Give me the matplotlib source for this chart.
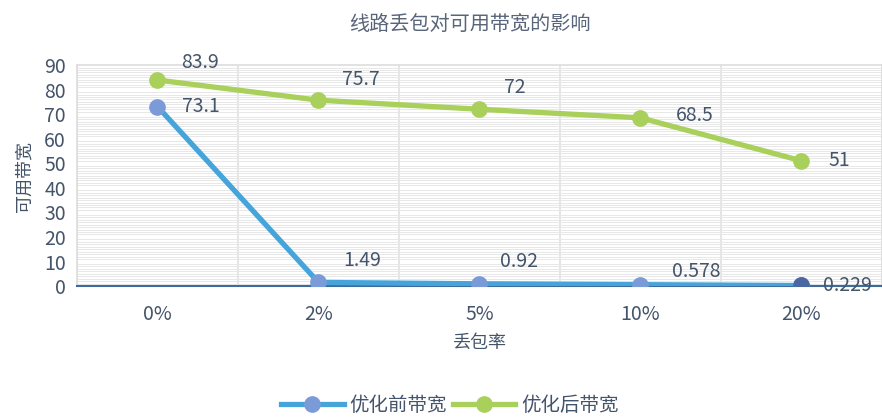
import matplotlib.pyplot as plt
import numpy as np

plt.rcParams['font.family'] = ['Noto Sans CJK SC', 'DejaVu Sans']

categories = ['0%', '2%', '5%', '10%', '20%']
before = [73.1, 1.49, 0.92, 0.578, 0.229]
after = [83.9, 75.7, 72, 68.5, 51]
before_labels = ['73.1', '1.49', '0.92', '0.578', '0.229']
after_labels = ['83.9', '75.7', '72', '68.5', '51']

txt = '#44546a'
blue = '#45a5da'
blue_mk = '#7b9bd8'
green = '#a8d05a'

fig = plt.figure(figsize=(8.82, 4.17), dpi=100)
ax = fig.add_axes([0.0873, 0.314, 0.9127, 0.53])

x = np.arange(len(categories))

ax.plot(x, before, color=blue, lw=3.8, marker='o', ms=11,
        mfc=blue_mk, mec=blue_mk, label='优化前带宽', zorder=4)
ax.plot(x[-1], before[-1], marker='o', ms=11, color='#4a67a3', zorder=5)
ax.plot(x, after, color=green, lw=3.8, marker='o', ms=11,
        mfc=green, mec=green, label='优化后带宽', zorder=4)

after_off = [(43, 18), (42, 21), (35, 22), (54, 2), (38, 0)]
before_off = [(43, 0), (44, 22), (40, 22), (56, 13), (46, 0)]
for i in range(len(x)):
    ax.annotate(after_labels[i], (x[i], after[i]), xytext=after_off[i],
                textcoords='offset pixels', color=txt, fontsize=14,
                va='center', ha='center')
    ax.annotate(before_labels[i], (x[i], before[i]), xytext=before_off[i],
                textcoords='offset pixels', color=txt, fontsize=14,
                va='center', ha='center', zorder=6)

ax.set_xlim(-0.5, 4.5)
ax.set_ylim(0, 90)
ax.set_xticks(x)
ax.set_xticklabels(categories)
ax.set_yticks(np.arange(0, 91, 10))
ax.set_yticks(np.arange(0, 91, 1), minor=True)
ax.set_xticks(np.arange(-0.5, 4.6, 0.5), minor=True)
ax.tick_params(axis='both', which='both', length=0, colors=txt, labelsize=14)
ax.tick_params(axis='x', pad=13)
ax.tick_params(axis='y', pad=8)
ax.grid(which='minor', axis='y', color='#e8e8e8', lw=0.7)
ax.grid(which='minor', axis='x', color='#e0e0e0', lw=1.2)
ax.set_axisbelow(True)

for s in ['top', 'left', 'right']:
    ax.spines[s].set_color('#dddddd')
    ax.spines[s].set_linewidth(1.2)
ax.spines['bottom'].set_color('#3f6a9e')
ax.spines['bottom'].set_linewidth(1.5)

ax.set_title('线路丢包对可用带宽的影响', color='#59657a', fontsize=14.5, pad=25, x=0.488)
ax.set_xlabel('丢包率', color=txt, fontsize=13, labelpad=6)
ax.set_ylabel('可用带宽', color=txt, fontsize=13, labelpad=8)

fig.legend(loc='lower center', bbox_to_anchor=(0.51, -0.04), ncol=2,
           frameon=False, fontsize=14, labelcolor=txt, handlelength=3.2,
           columnspacing=0.3, handletextpad=0.3)

fig.savefig('out.png', dpi=100)
